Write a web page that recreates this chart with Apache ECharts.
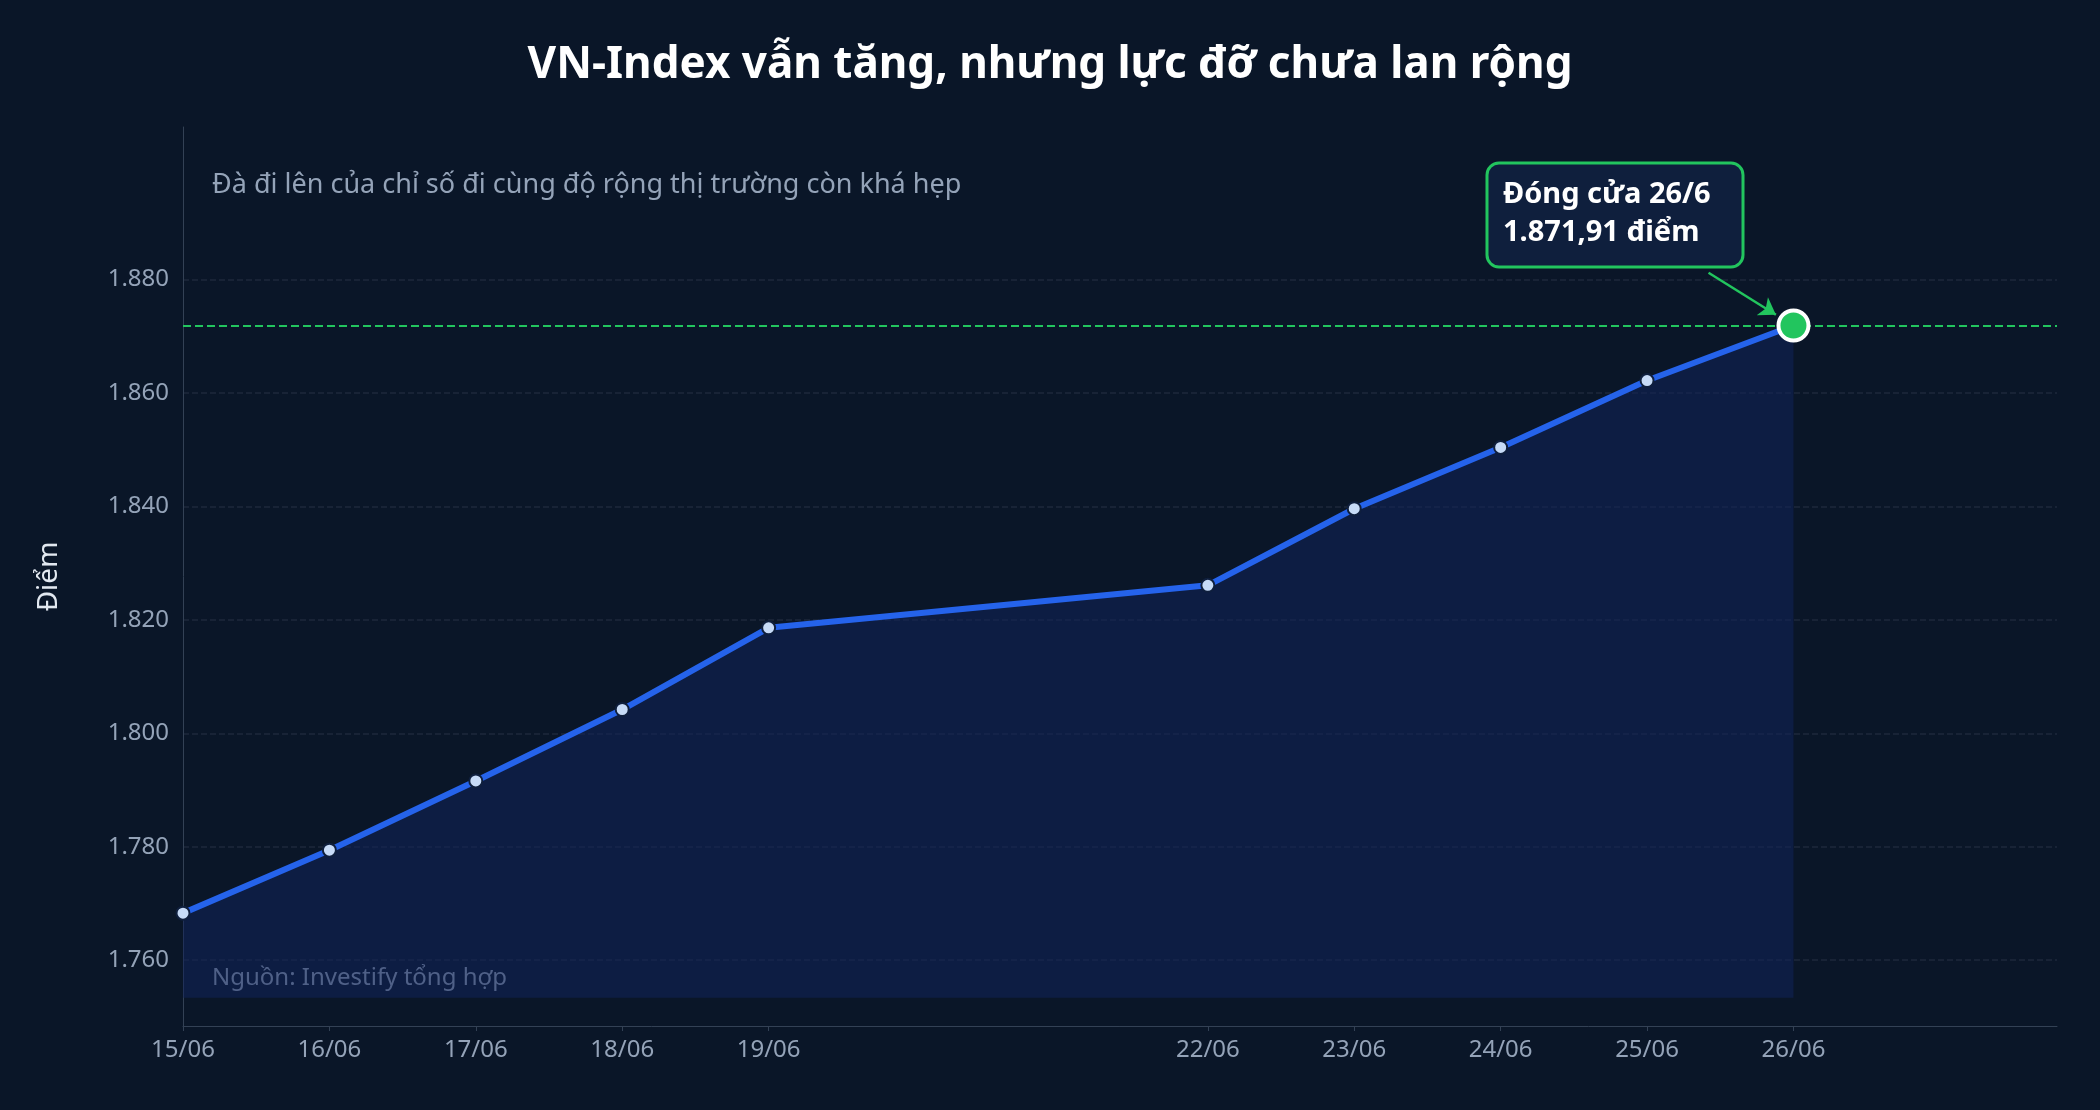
<!DOCTYPE html>
<html><head><meta charset="utf-8">
<script src="https://cdn.jsdelivr.net/npm/echarts@6/dist/echarts.min.js"></script>
<style>html,body{margin:0;background:#0a1628}#c{width:2100px;height:1110px}</style>
</head><body><div id="c"></div>
<script>
const dates = ["15/06","16/06","17/06","18/06","19/06","22/06","23/06","24/06","25/06","26/06"];
const values = [1768.3,1779.4,1791.6,1804.2,1818.6,1826.1,1839.6,1850.4,1862.2,1871.91];
const yTicks = [1760,1780,1800,1820,1840,1860,1880];
const closeValue = 1871.91;

const dayNum = d => parseInt(d.split('/')[0], 10);
const fmtY = v => v.toLocaleString('de-DE');
const pts = dates.map((d,i)=>[dayNum(d), values[i]]);
const last = pts[pts.length-1];
const font = '"Noto Sans", sans-serif';

const chart = echarts.init(document.getElementById('c'));
chart.setOption({
  backgroundColor:'#0a1628',
  textStyle:{fontFamily:font},
  title:{text:'VN-Index vẫn tăng, nhưng lực đỡ chưa lan rộng', left:'center', top:38,
    textStyle:{color:'#ffffff', fontSize:44, fontWeight:'bold', fontFamily:font}},
  grid:{left:183, right:43, top:127, bottom:84},
  xAxis:{type:'value', min:15, max:27.8,
    axisLine:{show:true, lineStyle:{color:'#334155'}},
    axisTick:{show:true, customValues:dates.map(dayNum), lineStyle:{color:'#334155'}},
    splitLine:{show:false},
    axisLabel:{customValues:dates.map(dayNum), color:'#94a3b8', fontSize:24, margin:12,
      formatter:v=>String(v).padStart(2,'0')+'/06'}},
  yAxis:{type:'value', min:1748.4, max:1906.9, name:'Điểm', nameLocation:'middle', nameGap:120, nameRotate:90,
    nameTextStyle:{color:'#e2e8f0', fontSize:28},
    axisLine:{show:true, lineStyle:{color:'#334155'}},
    axisTick:{show:false, customValues:yTicks},
    splitLine:{show:true, lineStyle:{color:'#1e293b', type:'dashed', width:1.5}},
    axisLabel:{customValues:yTicks, color:'#94a3b8', fontSize:24, margin:14, formatter:fmtY}},
  series:[
    {type:'line', data:pts, symbol:'circle', symbolSize:13, z:3,
     lineStyle:{color:'#2563eb', width:6},
     itemStyle:{color:'#c7dbf7', borderColor:'#0f1f3d', borderWidth:2},
     areaStyle:{color:'rgba(17,37,92,0.75)', origin:1753.4},
     markLine:{silent:true, symbol:'none', label:{show:false},
       lineStyle:{color:'#22c55e', type:'dashed', width:2},
       data:[{yAxis:closeValue}]},
     markPoint:{symbol:'circle', symbolSize:30, itemStyle:{color:'#22c55e', borderColor:'#ffffff', borderWidth:4},
       label:{show:false}, data:[{coord:last}]}},
    {type:'line', data:[], markLine:{silent:true, symbol:['none','arrow'], symbolSize:16, label:{show:false},
       lineStyle:{color:'#22c55e', type:'solid', width:2.5},
       data:[[{coord:[25.42,1881.2]},{coord:[25.88,1873.8]}]]}}
  ],
  graphic:[
    {type:'text', left:212, top:172, style:{text:'Đà đi lên của chỉ số đi cùng độ rộng thị trường còn khá hẹp', fill:'#94a3b8', font:'27px '+font}},
    {type:'text', left:212, top:966, style:{text:'Nguồn: Investify tổng hợp', fill:'#94a3b8', font:'24px '+font}},
    {type:'rect', shape:{x:1487, y:163, width:256, height:104, r:12}, style:{fill:'#0f1f3d', stroke:'#22c55e', lineWidth:3}},
    {type:'text', x:1503, y:176, style:{text:'Đóng cửa 26/6\n1.871,91 điểm', fill:'#ffffff', font:'bold 29px '+font, lineHeight:38}}
  ]
});
</script></body></html>
